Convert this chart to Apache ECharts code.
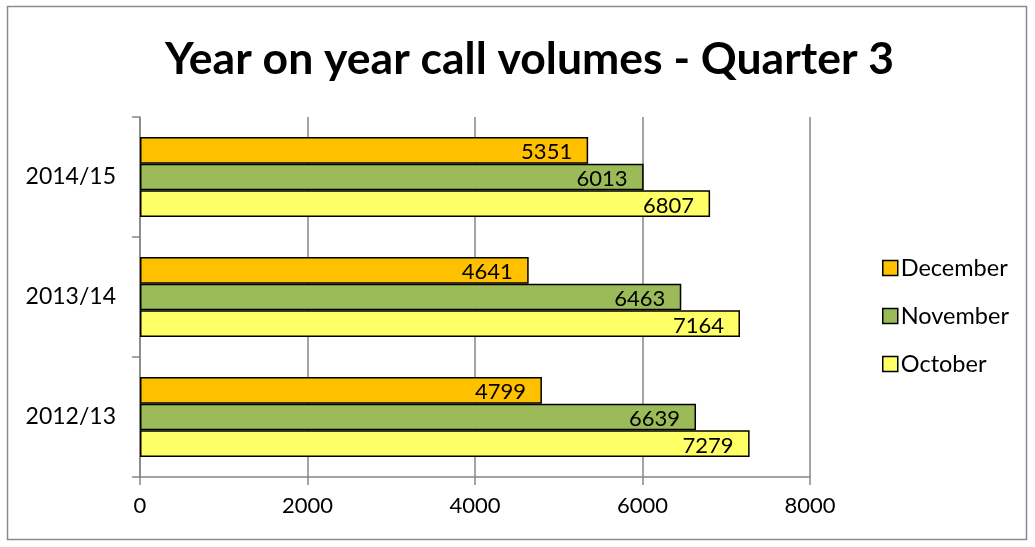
<!DOCTYPE html>
<html><head><meta charset="utf-8">
<script src="https://cdn.jsdelivr.net/npm/echarts@6/dist/echarts.min.js"></script>
<style>html,body{margin:0;padding:0;background:#fff}#c{width:1035px;height:547px}</style>
</head><body><div id="c"></div>
<script>
const categories = ['2012/13', '2013/14', '2014/15'];
const october = [7279, 7164, 6807];
const november = [6639, 6463, 6013];
const december = [4799, 4641, 5351];
const xTicks = [0, 2000, 4000, 6000, 8000];

const FONT = 'Lato, "Open Sans", sans-serif';
const chart = echarts.init(document.getElementById('c'));
const lbl = {show: true, position: 'insideRight', color: '#000', fontSize: 22, fontFamily: FONT, distance: 16, offset: [0, 2]};
function mk(name, data, color) {
  return {name, type: 'bar', data, barWidth: 26.7, barGap: '0%',
    itemStyle: {color, borderColor: '#000', borderWidth: 1.5}, label: lbl};
}
chart.setOption({
  animation: false,
  backgroundColor: '#fff',
  title: {text: 'Year on year call volumes - Quarter 3', left: 160, top: 32,
    textStyle: {fontFamily: FONT, fontWeight: 'bold', fontSize: 44.5, color: '#000'}},
  graphic: [{type: 'rect', shape: {x: 7.5, y: 6.5, width: 1019, height: 533},
    style: {fill: 'none', stroke: '#8c8c8c', lineWidth: 1.5}}],
  legend: {orient: 'vertical', left: 877, top: 251, itemGap: 24, itemWidth: 15, itemHeight: 15,
    icon: 'rect', data: ['December', 'November', 'October'],
    itemStyle: {borderColor: '#000', borderWidth: 1.5},
    textStyle: {fontFamily: FONT, fontSize: 23.5, color: '#000', padding: [0, 0, 0, -2]}},
  grid: {left: 140, right: 225, top: 117, bottom: 70, containLabel: false},
  xAxis: {type: 'value', min: xTicks[0], max: xTicks[xTicks.length - 1], interval: 2000,
    axisLine: {show: true, lineStyle: {color: '#868686', width: 1.5}},
    axisTick: {show: true, length: 8, lineStyle: {color: '#868686', width: 1.5}},
    splitLine: {show: true, lineStyle: {color: '#868686', width: 1.5}},
    axisLabel: {fontFamily: FONT, fontSize: 22, color: '#000', margin: 18, formatter: v => String(v)}},
  yAxis: {type: 'category', data: categories,
    axisLine: {show: true, lineStyle: {color: '#868686', width: 1.5}},
    axisTick: {show: true, length: 8, lineStyle: {color: '#868686', width: 1.5}},
    axisLabel: {fontFamily: FONT, fontSize: 23, color: '#000', margin: 24}},
  series: [mk('December', december, '#ffc000'), mk('November', november, '#9bbb59'), mk('October', october, '#ffff66')]
});
</script></body></html>
